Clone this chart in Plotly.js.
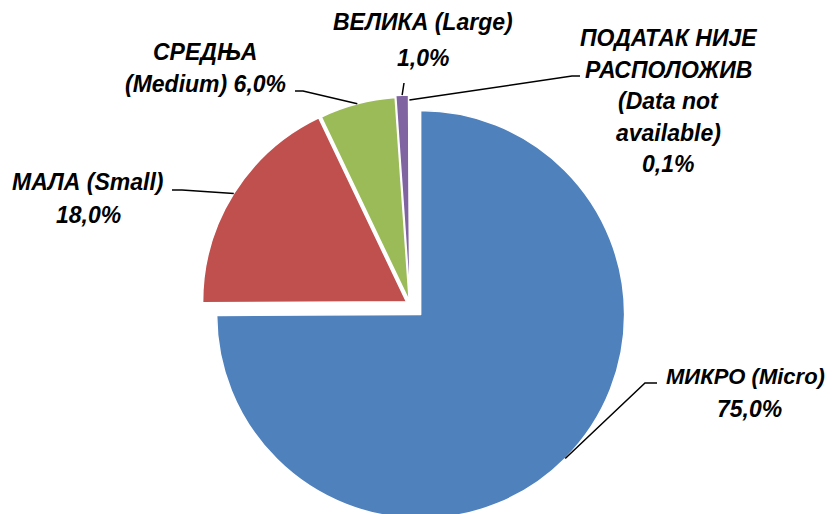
<!DOCTYPE html>
<html>
<head>
<meta charset="utf-8">
<script src="https://cdn.plot.ly/plotly-3.0.1.min.js"></script>
<style>
html,body{margin:0;padding:0;overflow:hidden;background:#fff;}
#chart{width:838px;height:524px;}
</style>
</head>
<body>
<div id="chart"></div>
<script>
// ---- data ----
const categories = ['МИКРО (Micro)', 'МАЛА (Small)', 'СРЕДЊА (Medium)', 'ВЕЛИКА (Large)', 'ПОДАТАК НИЈЕ РАСПОЛОЖИВ (Data not available)'];
const shares = [75.0, 18.0, 6.0, 1.0, 0.1];
const nameLines = [
  ['МИКРО (Micro)'],
  ['МАЛА (Small)'],
  ['СРЕДЊА', '(Medium)'],
  ['ВЕЛИКА (Large)'],
  ['ПОДАТАК НИЈЕ', 'РАСПОЛОЖИВ', '(Data not', 'available)']
];
const colors = ['#4F81BD', '#C0504D', '#9BBB59', '#8064A2', '#4BACC6'];

// ---- layout config (pixels) ----
const W = 838, H = 524;
const CX = 410, CY = 304, R = 204;
const pullPx = [15, 4, 3, 5, 0];
const pulls = pullPx.map(p => p / R);
const maxPull = Math.max(...pulls);
const half = R * (1 + maxPull);
const pctSameLine = [false, false, true, false, false];
const labelPos = [ // [x center, first line y center, line spacing, first-line font size, 2nd line x]
  [745, 376, 33, 22, 749],
  [88, 182, 33, 23, 88],
  [205, 52, 32, 23, 205],
  [423, 22, 36, 23, 423],
  [668, 38, 31.5, 23, 668]
];
const leaderPts = [ // elbow and end points of leader lines
  [[645, 383], [657, 383]],
  [[182, 190], [172, 190]],
  [[303, 91], [295, 91]],
  [[404, 83]],
  [[572, 76], [580, 76]]
];

const px = x => x / W, py = y => 1 - y / H;
const fmt = v => v.toFixed(1).replace('.', ',') + '%';

const baseFont = {family: 'Liberation Sans, Arial, sans-serif', size: 23, color: '#000', weight: 'bold', style: 'italic'};

const annotations = [];
const shapes = [];
const total = shares.reduce((a, b) => a + b, 0);
let cum = 0;
shares.forEach((v, i) => {
  const lines = nameLines[i].slice();
  if (pctSameLine[i]) lines[lines.length - 1] += ' ' + fmt(v);
  else lines.push(fmt(v));
  const [lx, ly, ls, fs0, lx2] = labelPos[i];
  lines.forEach((t, k) => {
    const f = Object.assign({}, baseFont, {size: k === 0 ? fs0 : baseFont.size});
    annotations.push({
      text: t, xref: 'paper', yref: 'paper', x: px(k === 0 ? lx : lx2), y: py(ly + k * ls),
      xanchor: 'center', yanchor: 'middle', showarrow: false, font: f
    });
  });
  // leader anchor on slice edge, from the slice's mid angle
  const mid = (cum + v / 2) / total * 2 * Math.PI;
  cum += v;
  const d = R * (1 + pulls[i]);
  const sx = CX + d * Math.sin(mid), sy = CY - d * Math.cos(mid);
  let path = 'M ' + px(sx) + ' ' + py(sy);
  leaderPts[i].forEach(p => { path += ' L ' + px(p[0]) + ' ' + py(p[1]); });
  shapes.push({type: 'path', xref: 'paper', yref: 'paper', path: path, line: {color: '#000', width: 1.5}});
});

const trace = {
  type: 'pie',
  labels: categories,
  values: shares,
  sort: false,
  direction: 'clockwise',
  rotation: 0,
  pull: pulls,
  textinfo: 'none',
  hoverinfo: 'label+percent',
  marker: {colors: colors, line: {color: '#ffffff', width: 1.5}},
  domain: {x: [(CX - half) / W, (CX + half) / W], y: [1 - (CY + half) / H, 1 - (CY - half) / H]},
  showlegend: false
};

Plotly.newPlot('chart', [trace], {
  width: W, height: H,
  margin: {l: 0, r: 0, t: 0, b: 0},
  paper_bgcolor: '#ffffff',
  showlegend: false,
  annotations: annotations,
  shapes: shapes
}, {displayModeBar: false, staticPlot: true});
</script>
</body>
</html>
